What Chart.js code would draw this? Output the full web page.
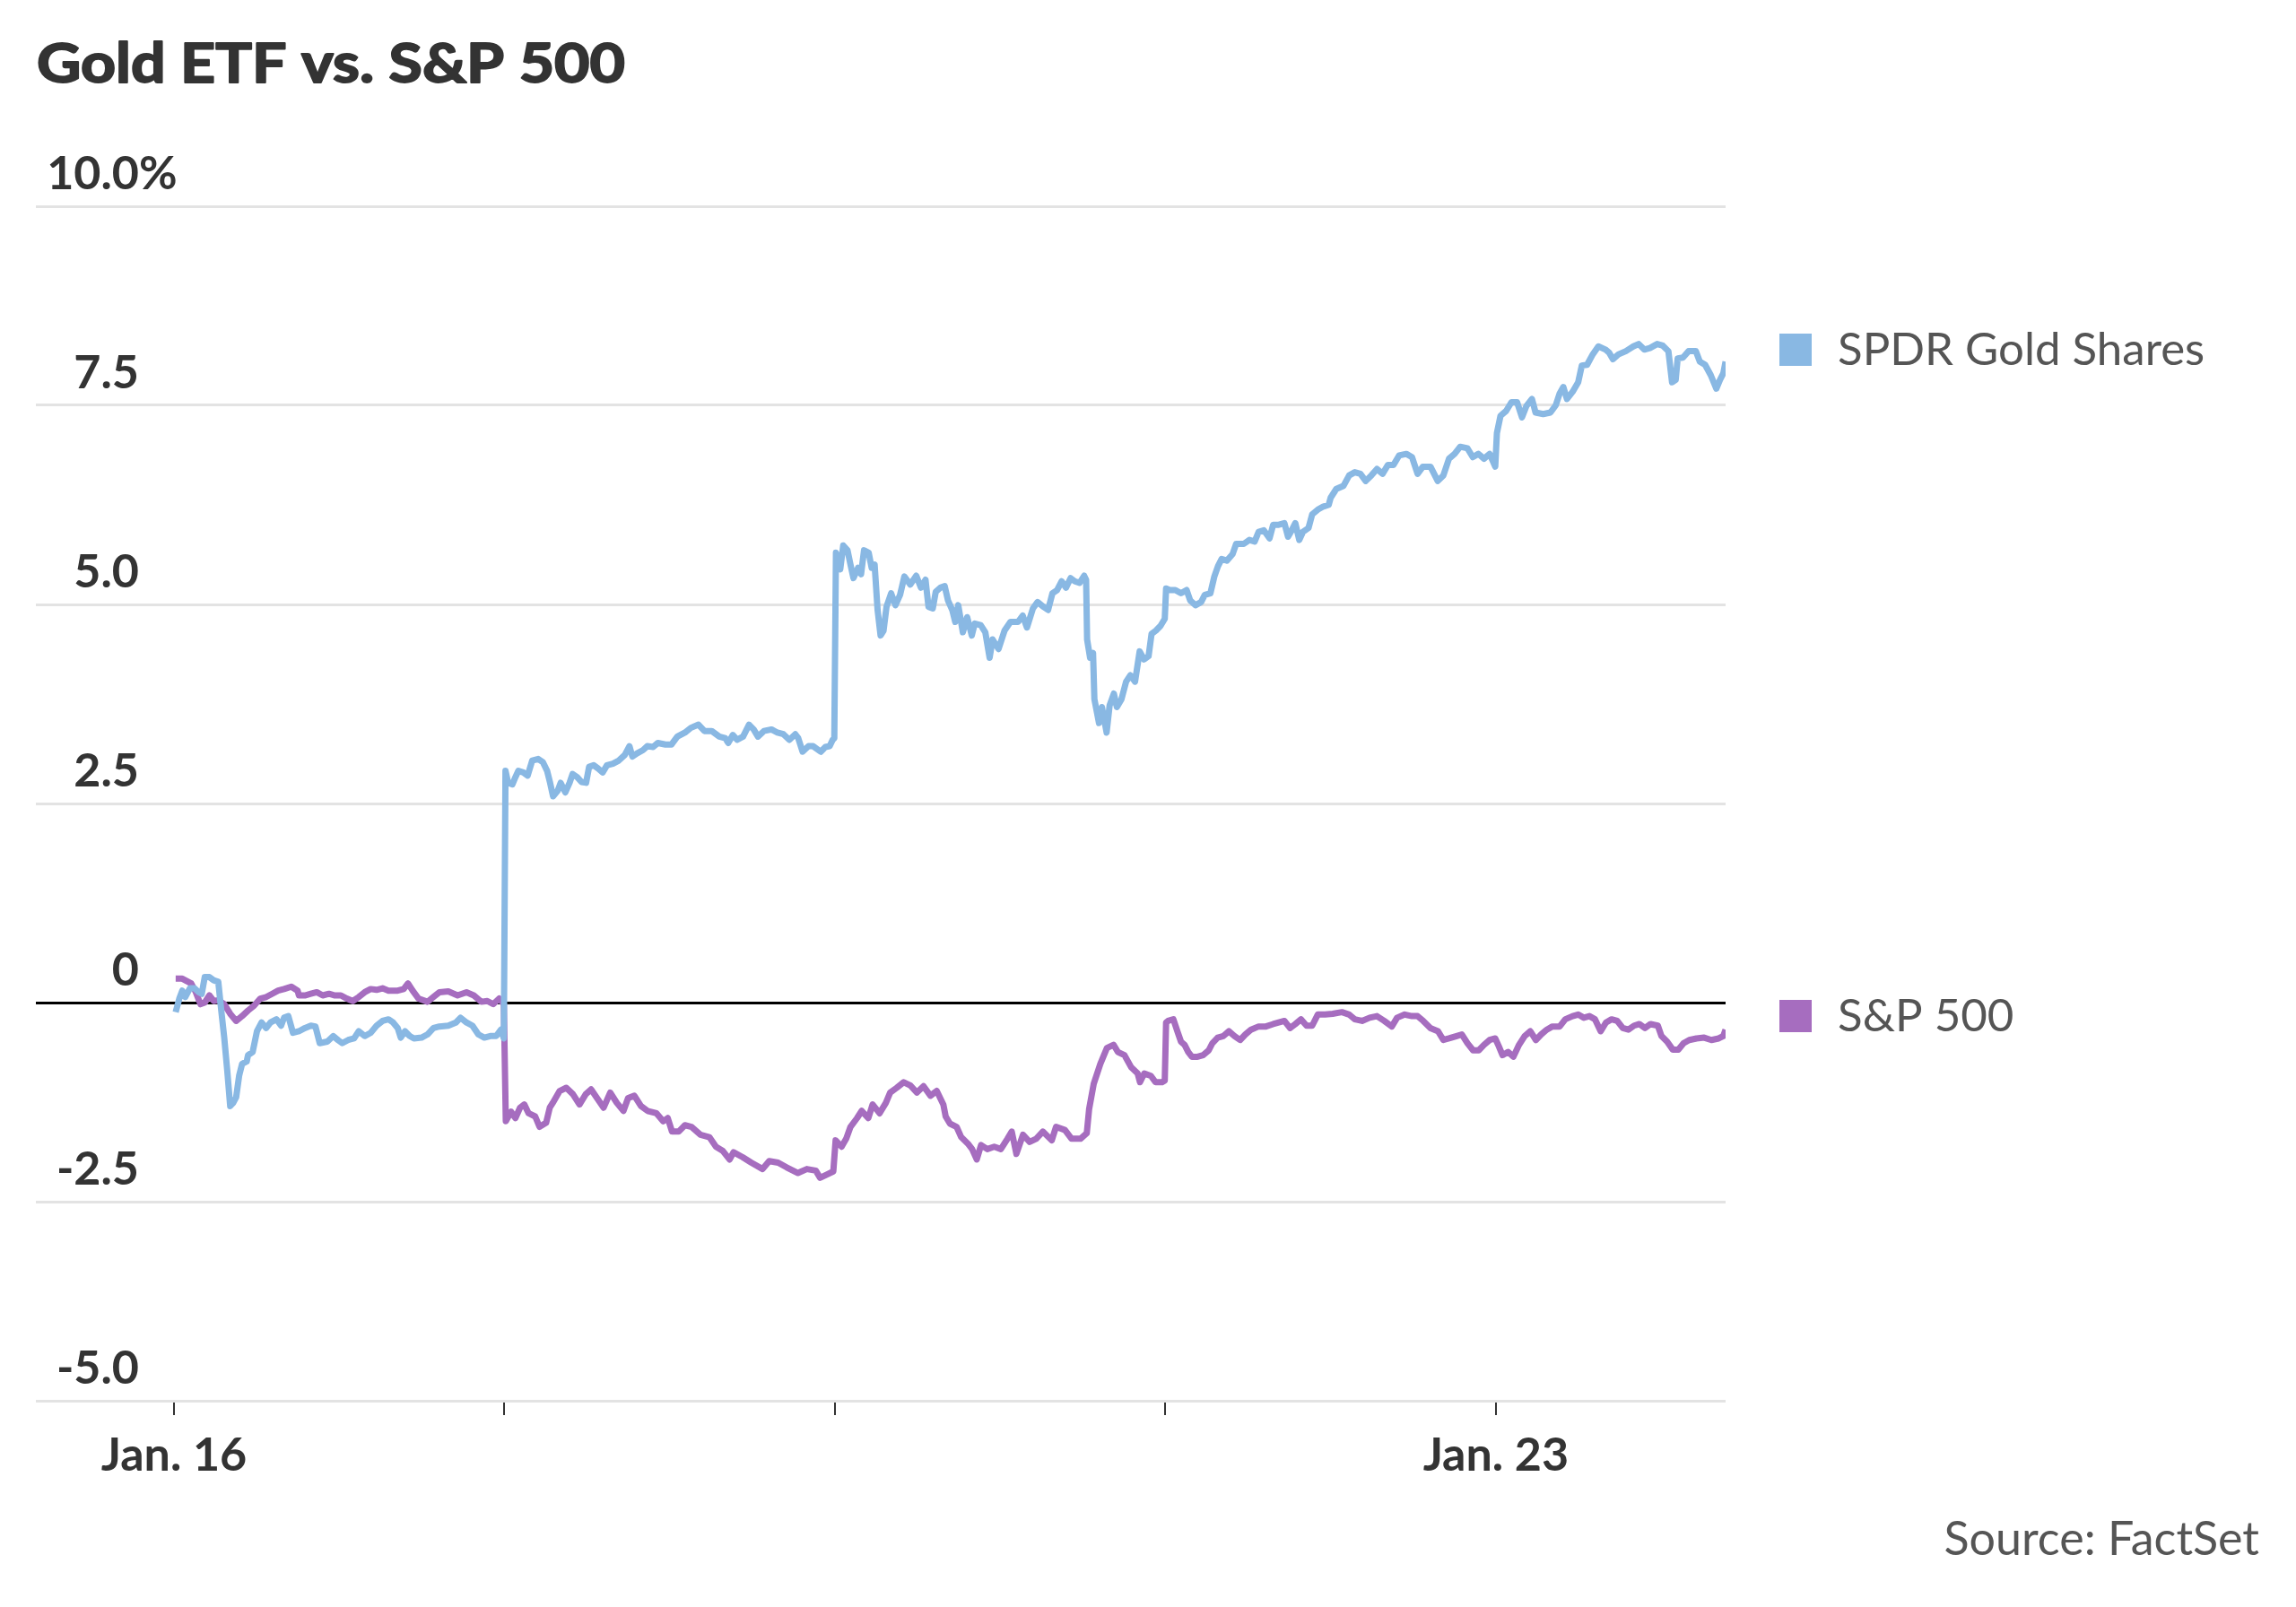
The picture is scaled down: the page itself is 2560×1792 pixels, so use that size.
<!DOCTYPE html>
<html>
<head>
<meta charset="utf-8">
<title>Gold ETF vs. S&amp;P 500</title>
<script src="https://cdn.jsdelivr.net/npm/chart.js@4.4.1/dist/chart.umd.min.js"></script>
<style>
  html, body { margin: 0; padding: 0; background: #fff; }
  #wrap { position: relative; width: 2560px; height: 1792px; }
</style>
</head>
<body>
<div id="wrap"><canvas id="chart" width="2560" height="1792"></canvas></div>
<script>
// x is measured in trading days since Jan. 16 (each session = 1 unit)
const titleText = "Gold ETF vs. S&P 500";
const sourceText = "Source: FactSet";
const seriesNames = ["SPDR Gold Shares", "S&P 500"];
const seriesColors = ["#89b8e3", "#a66dbf"];

const xTickValues = [0, 1, 2, 3, 4];
const xTickLabels = ["Jan. 16", "", "", "", "Jan. 23"];
const yTickValues = [-5, -2.5, 0, 2.5, 5, 7.5, 10];
const yTickLabels = ["-5.0", "-2.5", "0", "2.5", "5.0", "7.5", "10.0"];
const xMin = -0.418, xMax = 4.695;

// SPDR Gold Shares, % change
const goldTimes = [
  0.005,0.016,0.025,0.034,0.048,0.062,0.075,0.084,0.093,0.107,0.120,0.134,0.143,0.152,0.161,0.170,0.179,0.188,0.197,0.206,0.220,0.224,0.238,0.251,0.265,0.279,0.292,0.310,0.324,0.333,0.346,0.360,0.378,0.396,0.414,0.428,0.441,0.464,0.482,0.496,0.509,0.527,0.545,0.559,0.577,0.595,0.613,0.631,0.649,0.663,0.677,0.686,0.699,0.713,0.726,0.749,0.767,0.785,0.803,0.830,0.853,0.867,0.885,0.903,0.921,0.939,0.957,0.975,0.989,0.998,
  1.003,1.011,1.024,1.033,1.042,1.057,1.070,1.084,1.102,1.116,1.129,1.138,1.147,1.161,1.170,1.184,1.197,1.206,1.220,1.233,1.247,1.256,1.270,1.283,1.297,1.310,1.328,1.346,1.364,1.378,1.387,1.401,1.419,1.432,1.450,1.464,1.487,1.505,1.523,1.546,1.564,1.587,1.605,1.627,1.650,1.668,1.677,1.691,1.704,1.722,1.740,1.754,1.767,1.785,1.808,1.826,1.844,1.862,1.880,1.889,1.902,1.920,1.934,1.957,1.971,1.984,1.993,1.998,
  2.003,2.016,2.025,2.038,2.047,2.056,2.070,2.079,2.088,2.102,2.111,2.120,2.129,2.138,2.147,2.156,2.170,2.183,2.197,2.210,2.228,2.246,2.260,2.274,2.283,2.296,2.305,2.319,2.332,2.342,2.355,2.364,2.373,2.387,2.400,2.414,2.423,2.441,2.455,2.468,2.477,2.495,2.513,2.531,2.554,2.568,2.581,2.599,2.613,2.631,2.645,2.658,2.672,2.686,2.699,2.713,2.726,2.740,2.754,2.760,2.763,2.772,2.781,2.785,2.799,2.808,2.822,2.831,2.844,2.853,2.867,2.881,2.894,2.908,2.922,2.935,2.949,2.958,2.971,2.985,2.998,
  3.002,3.013,3.030,3.047,3.064,3.075,3.091,3.108,3.119,3.136,3.148,3.159,3.170,3.186,3.203,3.214,3.237,3.254,3.270,3.282,3.298,3.315,3.326,3.343,3.360,3.371,3.382,3.393,3.405,3.416,3.433,3.444,3.461,3.478,3.494,3.500,3.517,3.539,3.556,3.573,3.590,3.606,3.623,3.640,3.657,3.673,3.690,3.707,3.729,3.746,3.763,3.779,3.802,3.824,3.841,3.858,3.875,3.892,3.914,3.930,3.947,3.964,3.981,3.998,
  4.003,4.014,4.031,4.047,4.064,4.079,4.092,4.109,4.120,4.143,4.165,4.181,4.193,4.204,4.215,4.232,4.249,4.260,4.276,4.293,4.310,4.332,4.343,4.354,4.371,4.393,4.416,4.432,4.449,4.466,4.488,4.505,4.522,4.533,4.544,4.550,4.566,4.583,4.605,4.617,4.633,4.650,4.667,4.678,4.688,4.695
];
const goldValues = [
  -0.12,0.05,0.15,0.07,0.18,0.18,0.13,0.11,0.32,0.32,0.28,0.26,-0.10,-0.44,-0.85,-1.30,-1.26,-1.19,-0.92,-0.77,-0.74,-0.66,-0.62,-0.36,-0.25,-0.32,-0.25,-0.21,-0.29,-0.19,-0.17,-0.38,-0.36,-0.32,-0.29,-0.30,-0.51,-0.49,-0.42,-0.47,-0.51,-0.47,-0.45,-0.36,-0.42,-0.38,-0.29,-0.23,-0.21,-0.25,-0.32,-0.44,-0.36,-0.42,-0.45,-0.44,-0.40,-0.32,-0.30,-0.29,-0.25,-0.19,-0.25,-0.29,-0.40,-0.44,-0.42,-0.42,-0.34,-0.45,
  2.91,2.76,2.74,2.83,2.91,2.89,2.85,3.04,3.06,3.02,2.91,2.76,2.59,2.66,2.76,2.64,2.76,2.87,2.83,2.77,2.76,2.96,2.98,2.94,2.89,2.98,3.00,3.04,3.11,3.22,3.09,3.13,3.17,3.22,3.21,3.26,3.24,3.24,3.34,3.39,3.45,3.49,3.41,3.41,3.34,3.32,3.26,3.36,3.30,3.34,3.49,3.43,3.34,3.41,3.43,3.39,3.37,3.30,3.37,3.32,3.15,3.22,3.22,3.15,3.21,3.22,3.30,3.32,
  5.65,5.44,5.74,5.68,5.50,5.33,5.46,5.38,5.68,5.65,5.46,5.50,4.93,4.61,4.67,4.97,5.14,4.99,5.12,5.35,5.25,5.36,5.21,5.31,4.97,4.95,5.16,5.21,5.23,5.05,4.93,4.78,4.99,4.65,4.84,4.61,4.76,4.74,4.65,4.33,4.56,4.44,4.67,4.78,4.78,4.86,4.71,4.95,5.03,4.97,4.93,5.14,5.18,5.29,5.21,5.33,5.29,5.27,5.36,5.31,4.56,4.33,4.39,3.81,3.51,3.71,3.39,3.73,3.88,3.71,3.81,4.03,4.11,4.03,4.41,4.31,4.35,4.63,4.67,4.73,4.82,
  5.20,5.18,5.18,5.14,5.18,5.05,4.99,5.03,5.12,5.14,5.35,5.48,5.57,5.55,5.63,5.76,5.76,5.81,5.79,5.91,5.93,5.83,6.00,6.00,6.02,5.85,5.93,6.02,5.81,5.91,5.96,6.13,6.19,6.23,6.25,6.34,6.45,6.49,6.62,6.66,6.64,6.55,6.62,6.70,6.64,6.75,6.75,6.87,6.89,6.85,6.64,6.73,6.73,6.55,6.62,6.83,6.89,6.98,6.96,6.85,6.89,6.83,6.89,6.73,
  7.15,7.37,7.43,7.54,7.54,7.35,7.49,7.58,7.41,7.39,7.41,7.50,7.65,7.73,7.58,7.67,7.79,8.00,8.01,8.14,8.24,8.20,8.16,8.08,8.14,8.18,8.24,8.27,8.20,8.22,8.27,8.25,8.18,7.79,7.82,8.09,8.10,8.18,8.18,8.05,8.01,7.88,7.71,7.82,7.90,8.05
];

// S&P 500, % change
const spxTimes = [
  0.005,0.025,0.043,0.052,0.066,0.080,0.093,0.107,0.120,0.134,0.152,0.170,0.188,0.206,0.224,0.242,0.261,0.279,0.297,0.315,0.333,0.355,0.374,0.378,0.396,0.414,0.432,0.450,0.469,0.487,0.505,0.523,0.541,0.559,0.577,0.595,0.613,0.631,0.649,0.677,0.695,0.708,0.722,0.740,0.767,0.785,0.803,0.830,0.858,0.885,0.907,0.930,0.948,0.966,0.984,0.998,
  1.004,1.020,1.033,1.047,1.060,1.073,1.093,1.106,1.126,1.137,1.146,1.167,1.187,1.207,1.227,1.246,1.262,1.280,1.300,1.320,1.340,1.360,1.374,1.393,1.413,1.433,1.460,1.480,1.494,1.507,1.527,1.546,1.566,1.593,1.620,1.640,1.660,1.681,1.693,1.720,1.747,1.781,1.801,1.828,1.854,1.888,1.915,1.942,1.955,1.975,1.995,
  2.002,2.020,2.034,2.047,2.067,2.081,2.101,2.114,2.135,2.154,2.167,2.187,2.208,2.228,2.248,2.268,2.289,2.308,2.328,2.335,2.348,2.368,2.382,2.402,2.415,2.429,2.442,2.461,2.482,2.502,2.522,2.535,2.549,2.569,2.589,2.609,2.629,2.656,2.669,2.696,2.716,2.743,2.762,2.769,2.783,2.803,2.823,2.843,2.856,2.876,2.896,2.916,2.923,2.936,2.956,2.970,2.990,2.998,
  3.002,3.008,3.024,3.036,3.047,3.058,3.069,3.080,3.097,3.114,3.131,3.142,3.158,3.175,3.192,3.209,3.226,3.242,3.259,3.282,3.304,3.326,3.343,3.360,3.377,3.393,3.410,3.427,3.444,3.461,3.483,3.506,3.534,3.556,3.573,3.595,3.618,3.640,3.662,3.685,3.701,3.724,3.746,3.763,3.780,3.802,3.825,3.841,3.858,3.881,3.897,3.914,3.931,3.948,3.964,3.981,3.998,
  4.009,4.020,4.037,4.053,4.070,4.087,4.104,4.121,4.137,4.154,4.171,4.193,4.210,4.232,4.249,4.266,4.283,4.300,4.317,4.333,4.350,4.367,4.384,4.401,4.418,4.434,4.451,4.468,4.490,4.501,4.518,4.535,4.552,4.568,4.585,4.607,4.630,4.652,4.674,4.688,4.695
];
const spxValues = [
  0.30,0.30,0.26,0.24,0.13,-0.02,0.00,0.09,0.02,0.03,-0.02,-0.14,-0.23,-0.17,-0.10,-0.04,0.05,0.07,0.11,0.15,0.17,0.20,0.15,0.09,0.09,0.11,0.13,0.09,0.11,0.09,0.09,0.05,0.02,0.07,0.13,0.17,0.16,0.18,0.15,0.15,0.17,0.24,0.15,0.05,0.01,0.07,0.13,0.14,0.09,0.13,0.09,0.01,0.02,-0.02,0.05,-0.02,
  -1.49,-1.37,-1.45,-1.32,-1.28,-1.39,-1.43,-1.56,-1.51,-1.32,-1.26,-1.11,-1.07,-1.15,-1.28,-1.15,-1.09,-1.20,-1.32,-1.13,-1.26,-1.36,-1.20,-1.17,-1.30,-1.36,-1.39,-1.49,-1.45,-1.62,-1.62,-1.54,-1.56,-1.66,-1.69,-1.81,-1.86,-1.97,-1.88,-1.94,-2.01,-2.09,-1.99,-2.01,-2.07,-2.14,-2.09,-2.11,-2.20,-2.16,-2.12,
  -1.73,-1.81,-1.71,-1.56,-1.45,-1.36,-1.45,-1.28,-1.39,-1.26,-1.13,-1.07,-1.00,-1.04,-1.13,-1.05,-1.17,-1.11,-1.28,-1.43,-1.52,-1.56,-1.69,-1.77,-1.84,-1.97,-1.79,-1.84,-1.81,-1.84,-1.71,-1.62,-1.90,-1.66,-1.75,-1.71,-1.62,-1.73,-1.56,-1.60,-1.71,-1.71,-1.64,-1.34,-1.02,-0.77,-0.57,-0.53,-0.62,-0.66,-0.81,-0.89,-1.00,-0.89,-0.92,-1.00,-1.00,-0.98,
  -0.25,-0.23,-0.21,-0.36,-0.49,-0.53,-0.62,-0.68,-0.68,-0.66,-0.60,-0.51,-0.44,-0.42,-0.36,-0.42,-0.47,-0.40,-0.34,-0.30,-0.30,-0.27,-0.25,-0.23,-0.32,-0.27,-0.21,-0.29,-0.29,-0.15,-0.15,-0.14,-0.12,-0.15,-0.21,-0.23,-0.19,-0.17,-0.23,-0.30,-0.19,-0.15,-0.17,-0.17,-0.23,-0.32,-0.36,-0.47,-0.45,-0.42,-0.40,-0.51,-0.60,-0.60,-0.53,-0.47,-0.45,
  -0.55,-0.66,-0.62,-0.68,-0.53,-0.42,-0.36,-0.47,-0.40,-0.34,-0.30,-0.30,-0.21,-0.17,-0.15,-0.19,-0.17,-0.21,-0.36,-0.25,-0.21,-0.23,-0.32,-0.34,-0.29,-0.27,-0.32,-0.27,-0.29,-0.42,-0.49,-0.59,-0.59,-0.51,-0.47,-0.45,-0.44,-0.47,-0.45,-0.42,-0.34
];

function toPoints(times, values) {
  var n = Math.min(times.length, values.length);
  var pts = [];
  for (var i = 0; i < n; i++) pts.push({ x: times[i], y: values[i] });
  return pts;
}

// title, y labels (sitting above the grid lines), legend and source
const textPlugin = {
  id: "chartText",
  afterDraw: function(chart) {
    var c = chart.ctx;
    var area = chart.chartArea;
    var yScale = chart.scales.y;
    c.save();
    c.textBaseline = "alphabetic";

    // title: heavier and a little wider than plain Lato Bold
    c.fillStyle = "#333333";
    c.strokeStyle = "#333333";
    c.lineWidth = 2;
    c.lineJoin = "round";
    c.textAlign = "left";
    c.font = "bold 62px Lato";
    var tw = c.measureText(titleText).width;
    c.save();
    c.translate(41, 92);
    c.scale(656 / tw, 1);
    c.fillText(titleText, 0, 0);
    c.strokeText(titleText, 0, 0);
    c.restore();

    c.font = "bold 52px Lato";
    var labelX = area.left + 115;
    yTickValues.forEach(function(v, i) {
      var py = yScale.getPixelForValue(v) - 19;
      c.textAlign = "right";
      c.fillText(yTickLabels[i], labelX, py);
      if (i === yTickValues.length - 1) {
        c.textAlign = "left";
        c.fillText("%", labelX, py);
      }
    });

    // legend, one item next to each line's end
    var legendY = [390, 1133];
    c.font = "51px Lato";
    c.textAlign = "left";
    seriesNames.forEach(function(name, i) {
      c.fillStyle = seriesColors[i];
      c.fillRect(area.right + 60, legendY[i] - 18, 36, 36);
      c.fillStyle = "#555555";
      c.fillText(name, area.right + 125, legendY[i] + 17);
    });

    c.font = "52px Lato";
    c.textAlign = "right";
    c.fillStyle = "#555555";
    c.fillText(sourceText, 2519, 1734);
    c.restore();
  }
};

function draw() {
  var ctx = document.getElementById("chart").getContext("2d");
  new Chart(ctx, {
    type: "line",
    data: {
      datasets: [
        {
          label: seriesNames[0],
          data: toPoints(goldTimes, goldValues),
          borderColor: seriesColors[0],
          borderWidth: 7,
          pointRadius: 0,
          tension: 0,
          borderJoinStyle: "round"
        },
        {
          label: seriesNames[1],
          data: toPoints(spxTimes, spxValues),
          borderColor: seriesColors[1],
          borderWidth: 7,
          pointRadius: 0,
          tension: 0,
          borderJoinStyle: "round"
        }
      ]
    },
    options: {
      responsive: false,
      animation: false,
      devicePixelRatio: 1,
      layout: { padding: { left: 40, right: 636, top: 230, bottom: 130 } },
      plugins: {
        legend: { display: false },
        tooltip: { enabled: false }
      },
      scales: {
        x: {
          type: "linear",
          min: xMin,
          max: xMax,
          afterBuildTicks: function(s) { s.ticks = xTickValues.map(function(v) { return { value: v }; }); },
          afterFit: function(s) { s.height = 100; },
          grid: { drawOnChartArea: false, drawTicks: true, tickLength: 16, color: "#333333", lineWidth: 2 },
          border: { display: false },
          ticks: {
            autoSkip: false,
            maxRotation: 0,
            padding: 14,
            color: "#333333",
            font: { family: "Lato", size: 52, weight: "bold" },
            callback: function(v, i) { return xTickLabels[i]; }
          }
        },
        y: {
          min: -5,
          max: 10,
          afterBuildTicks: function(s) { s.ticks = yTickValues.map(function(v) { return { value: v }; }); },
          afterFit: function(s) { s.width = 0; },
          grid: {
            drawTicks: false,
            lineWidth: 3,
            color: function(c) { return c.tick && c.tick.value === 0 ? "#000000" : "#e3e3e3"; }
          },
          border: { display: false },
          ticks: { display: false }
        }
      }
    },
    plugins: [textPlugin]
  });
}

document.fonts.load("bold 62px Lato").then(draw, draw);
</script>
</body>
</html>
